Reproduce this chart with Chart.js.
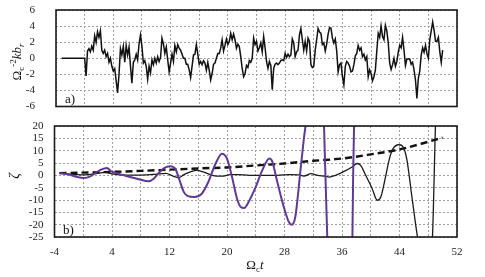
<!DOCTYPE html>
<html>
<head>
<meta charset="utf-8">
<script src="https://cdn.jsdelivr.net/npm/chart.js@4.4.1/dist/chart.umd.min.js"></script>
<style>
  html, body { margin: 0; padding: 0; background: #fff; }
  #wrap { position: relative; width: 485px; height: 277px; }
  canvas { position: absolute; left: 0; display: block; }
  #chartA { top: 0; }
  #chartB { top: 118px; }
</style>
</head>
<body>
<div id="wrap">
  <canvas id="chartA" width="485" height="118"></canvas>
  <canvas id="chartB" width="485" height="159"></canvas>
</div>
<script>
// panel a) : noisy signal, sampled every 0.2 from t = 0
const sigStart = 0;
const sigStep = 0.2;
const sigValues = [
  0.0, -2.2, 0.9, 1.2, 0.8, 1.5, 1.0, 2.8, 2.0, 3.3,
  2.6, 3.4, 1.0, 0.6, 1.0, 0.2, 0.6, -0.5, 0.0, -1.0,
  -1.6, -1.3, -2.8, -4.3, -2.0, 1.2, 0.4, 1.5, -0.5, 1.6,
  0.4, 1.4, -1.0, -3.1, -0.5, -0.2, 0.5, -0.2, 1.8, 2.9,
  1.5, -0.6, -0.3, -1.0, -2.6, -1.0, -1.8, -0.2, -0.8, 0.0,
  -0.6, 0.2, -0.4, 0.1, 2.5, 1.8, 0.6, 1.4, -0.2, -1.7,
  -0.6, 0.5, -0.4, 1.6, 0.8,
  1.7, 1.25, 1.0, 0.5, 0.0, 0.0, -0.75, -0.75, -1.45, -2.4,
  -1.0, 0.4, 0.5, 1.7, 0.5, -0.75, -0.4, -0.8, -0.3, -0.6,
  -1.5, -0.5, -1.5, -2.7, -1.9, -0.75, -0.6, 0.0, 0.6, 0.6,
  1.25, 2.3, 0.9, 1.6, 2.4, 1.7, 2.1, 3.1, 2.3, 3.0,
  2.3, 1.25, 1.75, 1.45, 0.2, -1.25, -2.3, -1.9, -0.9, -1.15,
  -0.3, -0.5, 0.0, 2.5, 1.7, 2.1, 0.9, 1.3, 1.9, 0.8,
  2.7, 1.3, -0.4, -1.25, -0.4, -0.9, -3.9, -1.25,
  -0.75, -0.6, -0.8, -0.6, -0.3, -0.2, -0.3, 0.6, 0.1, 0.5,
  0.2, 0.4, 2.4, 1.9, 0.2, 0.8, 1.0, 2.9, 3.7, 2.3,
  1.0, 2.1, 0.9, 2.5, 2.1, -0.8, -1.15, -1.0, 1.0, 2.3,
  3.7, 3.25, 3.1, 1.7, 1.9, 0.9, 1.75, 3.0, 3.8, 3.75,
  2.5, 1.9, 2.4, 0.9, -1.7, -0.8, -0.6, -2.3, -3.3, -1.0,
  -0.4, -0.6, -1.0, -1.7, -1.6, -0.8, 0.3, 0.6, 1.6, 1.0,
  1.3, 0.2, 0.5, -0.2, 0.2, -2.3,
  -1.45, -1.9, -2.8, -2.3, -1.45, 0.9, 3.1, 2.6, 4.0, 2.7,
  2.3, 4.1, 3.4, 1.9, -0.6, -1.4, -0.8, 0.0, -1.0, -0.4,
  0.8, 1.6, 1.3, 2.6, 1.0, -0.9, -0.1, -0.1, -0.1, -0.75,
  -0.5, -1.45, -2.7, -5.0, -2.5, -1.6, 0.4, 1.3, 0.75, 1.6,
  0.6, 0.0, 2.3, 3.4, 4.5, 3.5, 2.1, 2.1, 2.6, 0.8,
  -0.5, 1.0
];
const leadT = [-3.2, 0];
const leadV = [0, 0];

// panel b) : three curves
const dashT = [-3.3, 0, 4, 8, 12, 16, 20, 24, 28, 32, 36, 40, 44, 48, 50];
const dashV = [0.9, 1.1, 1.4, 1.8, 2.3, 2.8, 3.2, 4.0, 4.8, 5.9, 6.8, 8.5, 10.5, 13.6, 15.3];

const blackT = [-3.3, -2, 0, 2, 3, 4, 6, 8, 10, 11.5, 12.5, 13.3, 14, 14.9, 15.8, 16.7, 17.6,
  18.6, 19.5, 20.4, 21.4, 23.2, 25.1, 27, 28.8, 30, 30.7, 31.7, 32.6, 33.7, 34.2, 35.1, 36.3,
  37.4, 38.1, 38.6, 39.3, 40.2, 40.9, 41.4, 42.1, 42.6, 43.1, 43.9, 44.4, 45.0, 45.7, 46.4,
  46.8, 47.5, 48.2, 48.6, 49.0, 49.3];
const blackV = [0.9, 0.5, 0.2, 0.8, 1.2, 0.6, 0.1, 0.1, 0.4, 0.8, -0.3, -0.9, 0.3, 1.4, 2.0, 1.4, 0.4,
  -0.3, -0.3, 0.3, 0.3, 0, 0, 0, 0.3, 0.2, -0.3, 0.7, 0, -0.4, -0.7, 0, 1.6,
  3.4, 4.8, 4.0, 0, -5.4, -10.1, -8.8, 0, 6.8, 10.8, 12.4, 11.9, 6.8, -8.1, -23,
  -30, -40, -35, -24, 20, 45];

const purpleT = [-3.3, -2, -0.85, 0.1, 1, 1.9, 2.85, 3.3, 3.9, 4.9, 6.1, 7.5, 9.1, 9.8, 10.7,
  11.6, 12.1, 12.8, 13.4, 14.0, 14.5, 15.5, 16.5, 17.4, 18.4, 19.3, 20.0, 20.7, 21.4, 21.9,
  22.4, 23.0, 24.0, 24.9, 25.9, 26.3, 27.0, 27.9, 28.6, 29.0, 29.5, 30.2, 30.7, 31.0, 31.5,
  32.5, 33.3, 33.5, 33.95, 34.5, 35.7, 37.0, 37.45, 37.55, 37.68, 38.1];
const purpleV = [0.9, 0.3, -0.7, -1.1, -0.4, 1.35, 2.7, 3.0, 1.6, 0.7, -0.4, -1.35, -2.4, -1.35, 1.6,
  3.4, 3.7, 2.7, -2.0, -6.8, -8.3, -8.8, -7.4, -2.7, 4.7, 8.8, 6.8, -0.7, -9.5, -12.8,
  -13.2, -10.8, -4.7, 2.0, 6.8, 5.6, -2.7, -12.8, -18.9, -20, -16.9, 1.4, 15, 22, 40,
  50, 35, 20, -25, -50, -60, -45, -25, 0, 20, 55];

const xTicks = { min: -4, max: 52, step: 4 };
const yTicksA = { min: -6, max: 6, step: 2 };
const yTicksB = { min: -25, max: 20, step: 5 };

const serif = "'Liberation Serif', 'Times New Roman', serif";
const gridColor = "#a0a0a0";

function pairs(xs, ys) {
  return xs.map((x, i) => ({ x, y: ys[i] }));
}

const sigPoints = pairs(leadT, leadV).concat(
  sigValues.map((v, i) => ({ x: sigStart + i * sigStep, y: v }))
);

// draws text with sub/superscripts, optionally rotated
function richText(ctx, parts, x, y, rotate, align) {
  ctx.save();
  ctx.translate(x, y);
  if (rotate) ctx.rotate(-Math.PI / 2);
  let total = 0;
  parts.forEach((p) => {
    ctx.font = p.font;
    p.w = ctx.measureText(p.text).width;
    total += p.w;
  });
  let cx = align === "left" ? 0 : -total / 2;
  ctx.fillStyle = "#111";
  ctx.textBaseline = "alphabetic";
  ctx.textAlign = "left";
  parts.forEach((p) => {
    ctx.font = p.font;
    ctx.fillText(p.text, cx, p.dy || 0);
    cx += p.w;
  });
  ctx.restore();
}

function framePlugin(texts) {
  return {
    id: "frame",
    afterDatasetsDraw(chart) {
      const { ctx, chartArea: a } = chart;
      ctx.save();
      ctx.strokeStyle = "#1a1a1a";
      ctx.lineWidth = 1.6;
      ctx.strokeRect(a.left, a.top, a.right - a.left, a.bottom - a.top);
      ctx.restore();
      texts.forEach((t) => richText(ctx, t.parts, t.x, t.y, t.rotate, t.align));
    },
  };
}

// fixed box size, and no automatic padding so the plot area stays where we put it
function fixSize(w, h) {
  return (s) => {
    if (w != null) s.width = w;
    if (h != null) s.height = h;
    s.paddingTop = 0;
    s.paddingBottom = 0;
    s.paddingLeft = 0;
    s.paddingRight = 0;
  };
}

function gridScale(range, extra) {
  return Object.assign(
    {
      type: "linear",
      min: range.min,
      max: range.max,
      grid: { color: gridColor, lineWidth: 1, drawTicks: false },
      border: { display: false, dash: [2, 2] },
    },
    extra
  );
}

const tickFont = { family: serif, size: 11 };

new Chart(document.getElementById("chartA"), {
  type: "line",
  data: {
    datasets: [
      {
        data: sigPoints,
        borderColor: "#111",
        borderWidth: 1.5,
        pointRadius: 0,
        tension: 0,
      },
    ],
  },
  options: {
    responsive: false,
    animation: false,
    layout: { padding: { left: 0, top: 10, right: 28, bottom: 11.5 } },
    plugins: { legend: { display: false }, tooltip: { enabled: false } },
    scales: {
      x: gridScale(xTicks, {
        ticks: { display: false, stepSize: xTicks.step },
        afterFit: fixSize(null, 0),
      }),
      y: gridScale(yTicksA, {
        ticks: { stepSize: yTicksA.step, padding: 21, font: tickFont, color: "#222", autoSkip: false },
        afterFit: fixSize(56, null),
      }),
    },
  },
  plugins: [
    framePlugin([
      {
        x: 21, y: 62, rotate: true,
        parts: [
          { text: "Ω", font: `13px ${serif}` },
          { text: "c", font: `9px ${serif}`, dy: 3 },
          { text: "-2", font: `9px ${serif}`, dy: -5 },
          { text: "kb", font: `italic 13px ${serif}` },
          { text: "r", font: `italic 9px ${serif}`, dy: 3 },
        ],
      },
      { x: 65, y: 103, align: "left", parts: [{ text: "a)", font: `13px ${serif}` }] },
    ]),
  ],
});

new Chart(document.getElementById("chartB"), {
  type: "line",
  data: {
    datasets: [
      {
        data: pairs(purpleT, purpleV),
        borderColor: "#5f3a95",
        borderWidth: 2,
        pointRadius: 0,
        cubicInterpolationMode: "monotone",
      },
      {
        data: pairs(blackT, blackV),
        borderColor: "#1a1a1a",
        borderWidth: 1.3,
        pointRadius: 0,
        cubicInterpolationMode: "monotone",
      },
      {
        data: pairs(dashT, dashV),
        borderColor: "#111",
        borderWidth: 2.4,
        borderDash: [7, 4],
        pointRadius: 0,
        cubicInterpolationMode: "monotone",
      },
    ],
  },
  options: {
    responsive: false,
    animation: false,
    layout: { padding: { left: 0, top: 8, right: 28, bottom: 0 } },
    plugins: { legend: { display: false }, tooltip: { enabled: false } },
    scales: {
      x: gridScale(xTicks, {
        ticks: {
          stepSize: xTicks.step,
          padding: 9,
          font: tickFont,
          color: "#222",
          maxRotation: 0,
          autoSkip: false,
          callback: (v) => ((v + 4) % 8 === 0 ? v : ""),
        },
        afterFit: fixSize(null, 40),
      }),
      y: gridScale(yTicksB, {
        ticks: { stepSize: yTicksB.step, padding: 11, font: tickFont, color: "#222", autoSkip: false },
        afterFit: fixSize(54.5, null),
      }),
    },
  },
  plugins: [
    framePlugin([
      { x: 19, y: 58, rotate: true, parts: [{ text: "ζ", font: `italic 14px ${serif}` }] },
      { x: 63, y: 116, align: "left", parts: [{ text: "b)", font: `13px ${serif}` }] },
      {
        x: 255, y: 151,
        parts: [
          { text: "Ω", font: `13px ${serif}` },
          { text: "c", font: `9px ${serif}`, dy: 3 },
          { text: "t", font: `italic 13px ${serif}` },
        ],
      },
    ]),
  ],
});
</script>
</body>
</html>
